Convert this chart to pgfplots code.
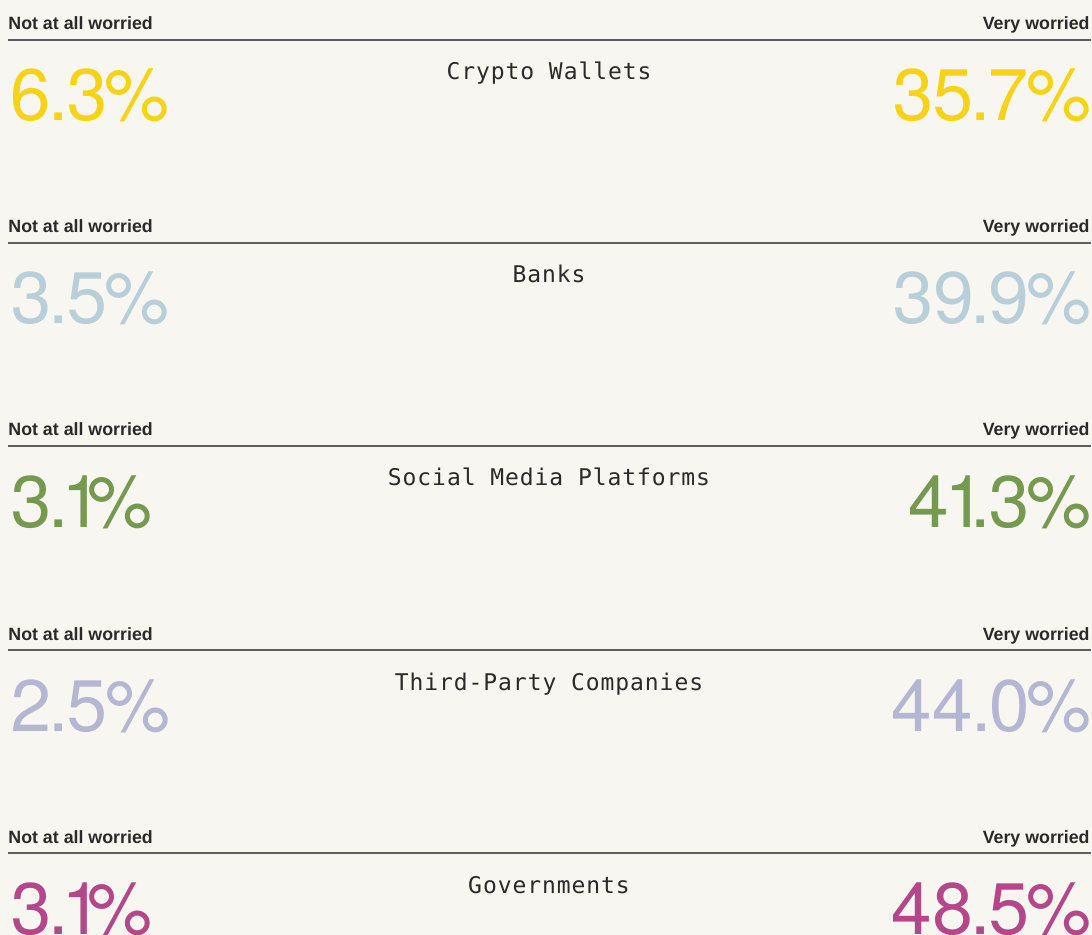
\documentclass[border=0pt]{standalone}
\usepackage{fontspec}
\setmainfont{Liberation Sans}
\newfontfamily\numfont[LetterSpace=-6, Numbers=Proportional]{TeX Gyre Heros}
\newfontfamily\titlefont[LetterSpace=4]{DejaVu Sans Mono}
\usepackage{pgfplots}
\pgfplotsset{compat=1.18}

\definecolor{bg}{HTML}{F8F6F0}
\definecolor{ink}{HTML}{2A2A2A}
\definecolor{rule}{HTML}{5E5E5E}
\definecolor{cyel}{HTML}{F6D314}
\definecolor{cblue}{HTML}{B8CFDA}
\definecolor{cgreen}{HTML}{74994F}
\definecolor{clav}{HTML}{B4B6D2}
\definecolor{cmag}{HTML}{B4478A}

\pgfplotsset{
  txt/.style={only marks, mark=*, mark size=0pt, mark options={draw=none, fill=none},
    point meta=explicit symbolic, nodes near coords},
  pct/.style={txt, nodes near coords={\pgfplotspointmeta\%},
    every node near coord/.append style={font=\numfont\fontsize{36.5}{37}\selectfont,
      inner sep=0pt, text=#1}},
  pleft/.style={pct=#1, every node near coord/.append style={anchor=base west}},
  pright/.style={pct=#1, every node near coord/.append style={anchor=base east}},
  lab/.style={txt, every node near coord/.append style={font=\bfseries\fontsize{8.9}{9}\selectfont,
      inner sep=0pt, text=ink, anchor=#1}},
  rl/.style={rule, line width=1pt, no marks},
}

\begin{document}
\begin{tikzpicture}
\fill[bg] (0,0) rectangle (546pt,467.5pt);
\begin{axis}[
  name=ax, at={(0,0)}, anchor=south west,
  scale only axis, width=546pt, height=467.5pt,
  xmin=0, xmax=1092, ymin=0, ymax=935, y dir=reverse,
  axis lines=none, clip=false,
]
% rules
\addplot[rl] coordinates {(8,40) (1091,40)};
\addplot[rl] coordinates {(8,243) (1091,243)};
\addplot[rl] coordinates {(8,446) (1091,446)};
\addplot[rl] coordinates {(8,650) (1091,650)};
\addplot[rl] coordinates {(8,853) (1091,853)};
% scale labels
\addplot[lab=base west] coordinates {(8,30)[Not at all worried] (8,233)[Not at all worried]
  (8,436)[Not at all worried] (8,640)[Not at all worried] (8,843)[Not at all worried]};
\addplot[lab=base east] coordinates {(1090,30)[Very worried] (1090,233)[Very worried]
  (1090,436)[Very worried] (1090,640)[Very worried] (1090,843)[Very worried]};
% categories
\addplot[txt, every node near coord/.append style={anchor=base,
    font=\titlefont\fontsize{11.5}{12}\selectfont, text=ink, inner sep=0pt}]
  coordinates {(549,80)[Crypto Wallets] (549,283)[Banks] (549,486)[Social Media Platforms]
  (549,690)[Third-Party Companies] (549,893)[Governments]};
% values: not at all worried / very worried
\addplot[pleft=cyel] coordinates {(8,121)[6.3]};
\addplot[pright=cyel] coordinates {(1092,121)[35.7]};
\addplot[pleft=cblue] coordinates {(8,324)[3.5]};
\addplot[pright=cblue] coordinates {(1092,324)[39.9]};
\addplot[pleft=cgreen] coordinates {(8,527)[3.1]};
\addplot[pright=cgreen] coordinates {(1092,527)[41.3]};
\addplot[pleft=clav] coordinates {(8,731)[2.5]};
\addplot[pright=clav] coordinates {(1092,731)[44.0]};
\addplot[pleft=cmag] coordinates {(8,934)[3.1]};
\addplot[pright=cmag] coordinates {(1092,934)[48.5]};
\end{axis}
\pgfresetboundingbox
\path[use as bounding box] (ax.south west) rectangle (ax.north east);
\end{tikzpicture}
\end{document}
